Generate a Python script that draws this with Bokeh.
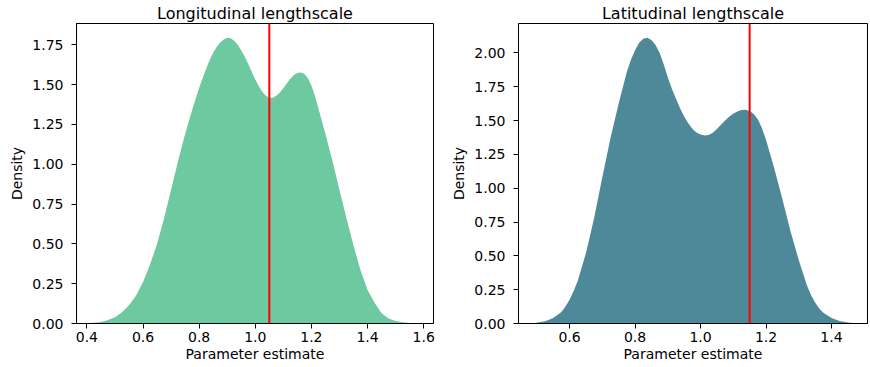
from bokeh.plotting import figure
from bokeh.layouts import row
from bokeh.models import Range1d, Span, FixedTicker, PrintfTickFormatter
from bokeh.embed import file_html
from bokeh.resources import INLINE

# ---- data ----
lon_x = [0.400, 0.425, 0.450, 0.475, 0.500, 0.525, 0.550, 0.575, 0.600, 0.625,
         0.650, 0.675, 0.700, 0.725, 0.750, 0.775, 0.800, 0.825, 0.8375, 0.850,
         0.8625, 0.875, 0.8875, 0.900, 0.9125, 0.925, 0.9375, 0.950, 0.9625, 0.975,
         0.9875, 1.000, 1.0125, 1.025, 1.0375, 1.050, 1.0625, 1.075, 1.0875, 1.100,
         1.1125, 1.125, 1.1375, 1.150, 1.1625, 1.175, 1.1875, 1.200, 1.2125, 1.225,
         1.250, 1.275, 1.300, 1.325, 1.350, 1.375, 1.400, 1.425, 1.450, 1.475,
         1.500, 1.525, 1.550, 1.575, 1.600]
lon_density = [0.000, 0.004, 0.010, 0.022, 0.040, 0.070, 0.115, 0.175, 0.260, 0.370,
               0.500, 0.660, 0.840, 1.020, 1.190, 1.340, 1.480, 1.600, 1.655, 1.700,
               1.737, 1.764, 1.784, 1.794, 1.791, 1.776, 1.750, 1.715, 1.675, 1.630,
               1.580, 1.532, 1.490, 1.455, 1.430, 1.417, 1.418, 1.430, 1.450, 1.477,
               1.508, 1.537, 1.560, 1.573, 1.577, 1.567, 1.540, 1.495, 1.430, 1.350,
               1.190, 1.020, 0.840, 0.660, 0.490, 0.335, 0.210, 0.130, 0.065, 0.032,
               0.016, 0.008, 0.003, 0.001, 0.000]
lon_estimate = 1.05

lat_x = [0.475, 0.500, 0.525, 0.550, 0.575, 0.5875, 0.600, 0.6125, 0.625, 0.650,
         0.675, 0.700, 0.725, 0.750, 0.775, 0.7875, 0.800, 0.8125, 0.825, 0.8375,
         0.850, 0.8625, 0.875, 0.8875, 0.900, 0.9125, 0.925, 0.9375, 0.950, 0.9625,
         0.975, 0.9875, 1.000, 1.0125, 1.025, 1.0375, 1.050, 1.0625, 1.075, 1.0875,
         1.100, 1.1125, 1.125, 1.1375, 1.150, 1.1625, 1.175, 1.1875, 1.200, 1.225,
         1.250, 1.275, 1.300, 1.325, 1.3375, 1.350, 1.3625, 1.375, 1.400, 1.425,
         1.450, 1.475, 1.500]
lat_density = [0.000, 0.006, 0.016, 0.040, 0.085, 0.125, 0.175, 0.240, 0.315, 0.520,
               0.780, 1.080, 1.370, 1.625, 1.860, 1.950, 2.020, 2.075, 2.105, 2.112,
               2.095, 2.058, 2.000, 1.915, 1.820, 1.735, 1.660, 1.590, 1.530, 1.480,
               1.440, 1.412, 1.396, 1.389, 1.393, 1.410, 1.438, 1.468, 1.500, 1.527,
               1.550, 1.566, 1.577, 1.580, 1.570, 1.548, 1.510, 1.445, 1.358, 1.150,
               0.920, 0.680, 0.470, 0.280, 0.210, 0.155, 0.110, 0.080, 0.040, 0.018,
               0.008, 0.002, 0.000]
lat_estimate = 1.15

lon_xticks = [0.4, 0.6, 0.8, 1.0, 1.2, 1.4, 1.6]
lat_xticks = [0.6, 0.8, 1.0, 1.2, 1.4]
lon_yticks = [0.0, 0.25, 0.5, 0.75, 1.0, 1.25, 1.5, 1.75]
lat_yticks = [0.0, 0.25, 0.5, 0.75, 1.0, 1.25, 1.5, 1.75, 2.0]

FONT = "DejaVu Sans"
HEIGHT = 364


def make_panel(title, xs, ys, est, color, xr, yr, xticks, yticks,
               width, border_left, border_right):
    p = figure(width=width, height=HEIGHT, output_backend="svg", toolbar_location=None,
               x_range=Range1d(*xr), y_range=Range1d(*yr), title=title,
               min_border_left=border_left, min_border_right=border_right,
               min_border_top=0, min_border_bottom=30)
    p.varea(x=xs, y1=[0] * len(xs), y2=ys, fill_color=color, fill_alpha=1.0)
    p.add_layout(Span(location=est, dimension="height", line_color="#ff0000", line_width=2))

    p.grid.visible = False
    p.background_fill_color = "white"
    p.border_fill_color = "white"
    p.outline_line_color = "black"
    p.outline_line_width = 1

    p.title.text_font = FONT
    p.title.text_font_size = "16px"
    p.title.text_font_style = "normal"
    p.title.text_color = "black"
    p.title.align = "center"
    p.title.standoff = 2

    for ax in (p.xaxis[0], p.yaxis[0]):
        ax.major_label_text_font = FONT
        ax.major_label_text_font_size = "14px"
        ax.major_label_text_color = "black"
        ax.axis_label_text_font = FONT
        ax.axis_label_text_font_style = "normal"
        ax.axis_label_text_color = "black"
        ax.axis_label_text_font_size = "14px"
        ax.axis_line_color = "black"
        ax.major_tick_line_color = "black"
        ax.major_tick_out = 5
        ax.major_tick_in = 0
        ax.minor_tick_line_color = None

    p.xaxis.major_label_standoff = 3
    p.yaxis.major_label_standoff = 8
    p.xaxis.ticker = FixedTicker(ticks=xticks)
    p.yaxis.ticker = FixedTicker(ticks=yticks)
    p.xaxis.formatter = PrintfTickFormatter(format="%.1f")
    p.yaxis.formatter = PrintfTickFormatter(format="%.2f")
    p.xaxis.axis_label = "Parameter estimate"
    p.yaxis.axis_label = "Density"
    p.xaxis.axis_label_standoff = 1
    p.yaxis.axis_label_standoff = 4
    return p


p1 = make_panel("Longitudinal lengthscale", lon_x, lon_density, lon_estimate, "#6dc9a0",
                (0.363, 1.635), (0.0, 1.884), lon_xticks, lon_yticks,
                width=443, border_left=76, border_right=10)
p2 = make_panel("Latitudinal lengthscale", lat_x, lat_density, lat_estimate, "#4e899a",
                (0.444, 1.51), (0.0, 2.217), lat_xticks, lat_yticks,
                width=425, border_left=75, border_right=1)

layout = row(p1, p2)
open("out.html", "w").write(file_html(layout, INLINE))
